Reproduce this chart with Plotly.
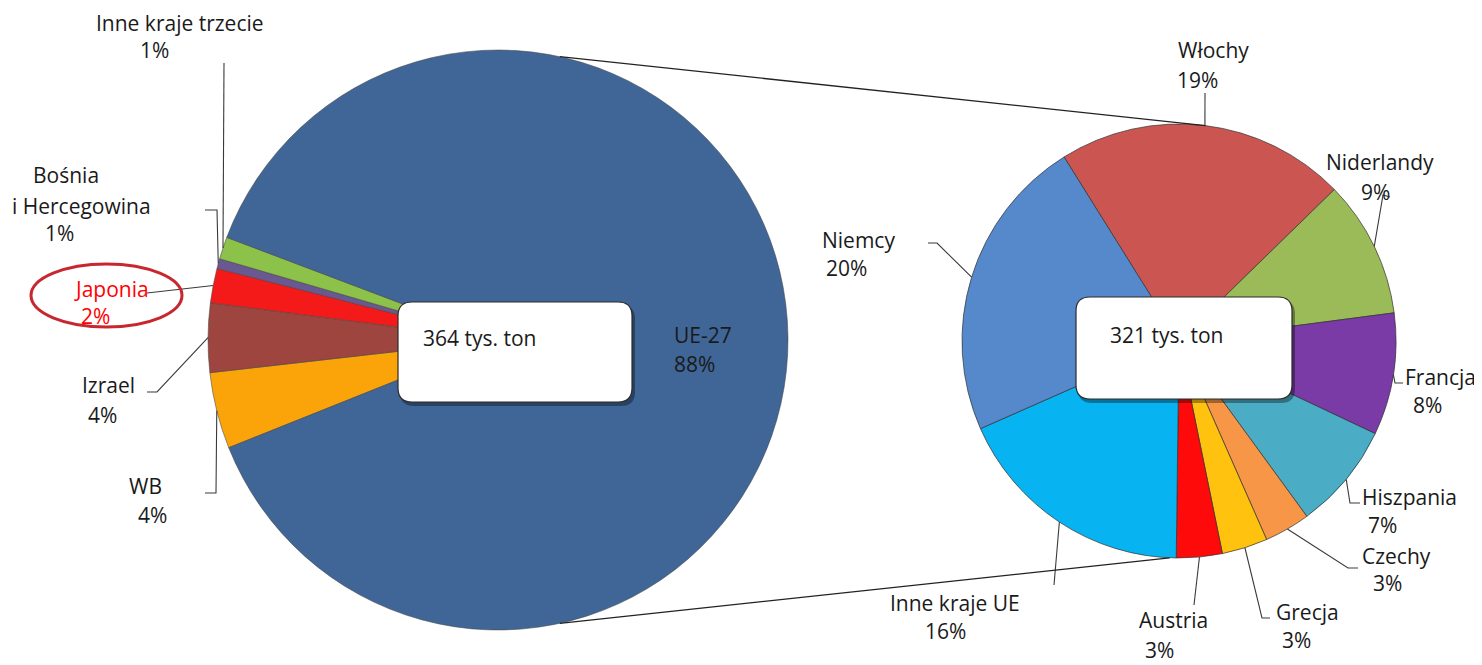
import math
import plotly.graph_objects as go

# page has an 8px body margin: figure is drawn 8px in from the top-left corner
OFF = 8
W, H = 1482 - OFF, 665 - OFF

# ---------------- data ----------------
left_labels = ["WB", "Izrael", "Japonia", "Bośnia i Hercegowina", "Inne kraje trzecie", "UE-27"]
left_values = [15.5, 14.0, 7.0, 2.0, 4.5, 321.0]   # tys. ton
left_pct = ["4%", "4%", "2%", "1%", "1%", "88%"]
left_total_text = "364 tys. ton"

right_labels = ["Włochy", "Niderlandy", "Francja", "Hiszpania", "Czechy", "Grecja",
                "Austria", "Inne kraje UE", "Niemcy"]
right_values = [19, 9, 8, 7, 3, 3, 3, 16, 20]
right_pct = ["19%", "9%", "8%", "7%", "3%", "3%", "3%", "16%", "20%"]
right_total_text = "321 tys. ton"

# ---------------- style ----------------
left_colors = ["#FBA40A", "#9E4540", "#F41A1A", "#6A5890", "#8CC24A", "#3F6697"]
right_colors = ["#CB5651", "#9BBB59", "#7A3BA6", "#4BACC6", "#F79646", "#FFC20E",
                "#FF0A0A", "#07B3F0", "#5689CC"]

FONT = "Open Sans, Lato, sans-serif"
FS = 21
TXT = "#1a1a1a"

LG = dict(cx=498, cy=340, r=290, rot=-111.8)
RG = dict(cx=1179, cy=341, r=217, rot=-32)


def px(x):
    return (x - OFF) / W


def py(y):
    return 1 - (y - OFF) / H


def domain(g):
    return dict(x=[px(g["cx"] - g["r"]), px(g["cx"] + g["r"])],
                y=[py(g["cy"] + g["r"]), py(g["cy"] - g["r"])])


def edge_point(g, values, idx, frac=0.5):
    tot = sum(values)
    cum = sum(values[:idx]) + values[idx] * frac
    ang = math.radians(90 - g["rot"] - cum / tot * 360)
    return (g["cx"] + g["r"] * math.cos(ang), g["cy"] - g["r"] * math.sin(ang))


def angle_point(g, deg):
    a = math.radians(deg)
    return (g["cx"] + g["r"] * math.cos(a), g["cy"] - g["r"] * math.sin(a))


fig = go.Figure()
fig.add_trace(go.Pie(
    labels=left_labels, values=left_values, sort=False, direction="clockwise",
    rotation=LG["rot"], textinfo="none", domain=domain(LG), showlegend=False,
    marker=dict(colors=left_colors, line=dict(color="rgba(70,70,70,0.55)", width=1)),
    hoverinfo="label+percent"))
fig.add_trace(go.Pie(
    labels=right_labels, values=right_values, sort=False, direction="clockwise",
    rotation=RG["rot"], textinfo="none", domain=domain(RG), showlegend=False,
    marker=dict(colors=right_colors, line=dict(color="rgba(50,50,50,0.7)", width=1)),
    hoverinfo="label+percent"))

# label layout: name lines (text, x, y), pct position, leader foot points (pixel space)
left_label_layout = {
    "WB": dict(name=[("WB", 145, 486)], pct=(152, 515), color=TXT,
               leader=[(205, 493), (216, 493)]),
    "Izrael": dict(name=[("Izrael", 109, 385)], pct=(102, 415), color=TXT,
                   leader=[(147, 392), (157, 392)]),
    "Japonia": dict(name=[("Japonia", 111, 289)], pct=(95, 316), color="#FF0000",
                    leader=[(147, 293)]),
    "Bośnia i Hercegowina": dict(name=[("Bośnia", 66, 175), ("i Hercegowina", 81, 206)],
                                 pct=(59, 233), color=TXT,
                                 leader=[(205, 210), (217, 210)]),
    "Inne kraje trzecie": dict(name=[("Inne kraje trzecie", 180, 23)], pct=(154, 50),
                               color=TXT, leader=[(224, 63)]),
}
right_label_layout = {
    "Włochy": dict(name=[("Włochy", 1213, 50)], pct=(1197, 80), leader=[(1205, 93)]),
    "Niderlandy": dict(name=[("Niderlandy", 1380, 162)], pct=(1375, 192),
                       leader=[(1390, 197), (1383, 195)]),
    "Francja": dict(name=[("Francja", 1440, 377)], pct=(1427, 405),
                    leader=[(1403, 383), (1395, 383)]),
    "Hiszpania": dict(name=[("Hiszpania", 1409, 497)], pct=(1382, 525),
                      leader=[(1360, 503), (1350, 503)]),
    "Czechy": dict(name=[("Czechy", 1396, 556)], pct=(1387, 583),
                   leader=[(1358, 568), (1348, 568)]),
    "Grecja": dict(name=[("Grecja", 1307, 612)], pct=(1296, 640),
                   leader=[(1270, 618), (1262, 618)]),
    "Austria": dict(name=[("Austria", 1173, 620)], pct=(1159, 650),
                    leader=[(1194, 605)]),
    "Inne kraje UE": dict(name=[("Inne kraje UE", 955, 603)], pct=(945, 631),
                          leader=[(1054, 585)]),
    "Niemcy": dict(name=[("Niemcy", 858, 240)], pct=(846, 268),
                   leader=[(928, 243), (937, 243)]),
}

annotations = []
shapes = []
LEADER = dict(color="#3a3a3a", width=1.1)


def add_text(text, x, y, color=TXT, xanchor="center", size=FS):
    annotations.append(dict(text=text, x=px(x), y=py(y), xref="paper", yref="paper",
                            showarrow=False, xanchor=xanchor, yanchor="middle",
                            borderpad=0,
                            font=dict(family=FONT, size=size, color=color)))


def add_polyline(points, line):
    path = "M " + " L ".join(f"{px(x):.6f},{py(y):.6f}" for x, y in points)
    shapes.append(dict(type="path", path=path, xref="paper", yref="paper", line=line,
                       layer="above"))


def place_labels(g, labels, values, pcts, layout_map):
    for i, lab in enumerate(labels):
        if lab not in layout_map:
            continue
        cfg = layout_map[lab]
        col = cfg.get("color", TXT)
        for t, x, y in cfg["name"]:
            add_text(t, x, y, col)
        add_text(pcts[i], cfg["pct"][0], cfg["pct"][1], col)
        ex, ey = edge_point(g, values, i)
        add_polyline(cfg["leader"] + [(ex, ey)], LEADER)


place_labels(LG, left_labels, left_values, left_pct, left_label_layout)
place_labels(RG, right_labels, right_values, right_pct, right_label_layout)

# UE-27 label inside the big slice
ue_idx = left_labels.index("UE-27")
add_text(left_labels[ue_idx], 673, 335, xanchor="left")
add_text(left_pct[ue_idx], 673, 364, xanchor="left")

# connector lines between the pies
t1 = angle_point(LG, 77.7)
b1 = angle_point(LG, -77.7)
t2 = angle_point(RG, 83.0)
b2 = angle_point(RG, -92.5)
add_polyline([t1, t2], dict(color="#222222", width=1.3))
add_polyline([b1, b2], dict(color="#222222", width=1.3))


# rounded white boxes with shadow
def rounded_rect(x0, y0, x1, y1, r):
    pts = (f"M {px(x0 + r)},{py(y0)} L {px(x1 - r)},{py(y0)} "
           f"Q {px(x1)},{py(y0)} {px(x1)},{py(y0 + r)} L {px(x1)},{py(y1 - r)} "
           f"Q {px(x1)},{py(y1)} {px(x1 - r)},{py(y1)} L {px(x0 + r)},{py(y1)} "
           f"Q {px(x0)},{py(y1)} {px(x0)},{py(y1 - r)} L {px(x0)},{py(y0 + r)} "
           f"Q {px(x0)},{py(y0)} {px(x0 + r)},{py(y0)} Z")
    return pts


for (x0, y0, x1, y1), txt, tx, ty in [((398, 302, 632, 402), left_total_text, 422, 338),
                                      ((1076, 297, 1292, 399), right_total_text, 1109, 335)]:
    shapes.append(dict(type="path", path=rounded_rect(x0 + 2, y0 + 3, x1 + 3, y1 + 4, 14),
                       xref="paper", yref="paper", fillcolor="rgba(0,0,0,0.35)",
                       line=dict(width=0), layer="above"))
    shapes.append(dict(type="path", path=rounded_rect(x0, y0, x1, y1, 14),
                       xref="paper", yref="paper", fillcolor="white",
                       line=dict(color="#2b2b2b", width=1.2), layer="above"))
    add_text(txt, tx, ty, xanchor="left")

# red ellipse highlighting Japonia
shapes.append(dict(type="circle", xref="paper", yref="paper",
                   x0=px(31), x1=px(182), y0=py(327), y1=py(264),
                   line=dict(color="#C8272F", width=3), layer="above"))

fig.update_layout(
    width=W, height=H, margin=dict(l=0, r=0, t=0, b=0),
    paper_bgcolor="white", plot_bgcolor="white",
    annotations=annotations, shapes=shapes, showlegend=False,
)

fig.write_html("out.html")
